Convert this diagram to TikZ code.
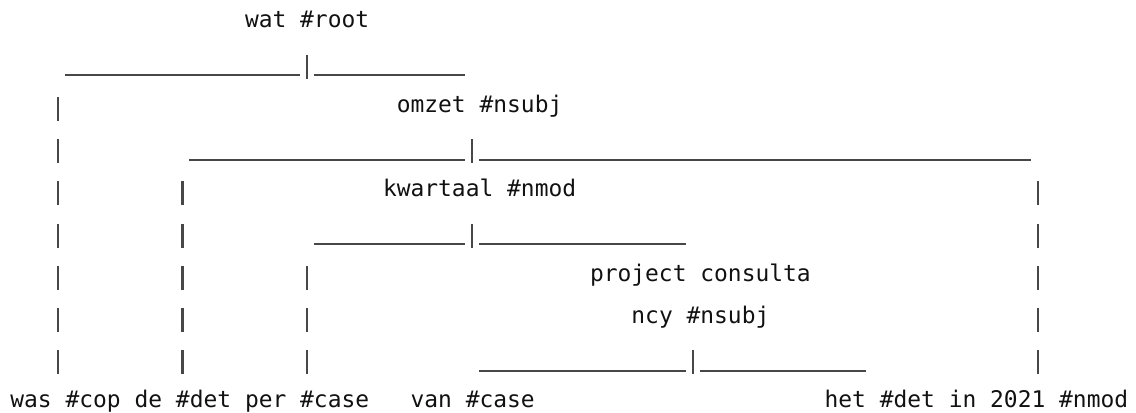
\documentclass[tikz,border=0pt]{standalone}
\usepackage{fontspec}
\usepackage{tikz}
\newfontfamily\bmmono{DejaVu Sans Mono}
\definecolor{bminkt}{HTML}{111111}
\definecolor{bmlijn}{HTML}{474747}
\tikzset{
  bmtekst/.style={font=\bmmono\fontsize{11.46pt}{14pt}\selectfont, text=bminkt,
                  inner sep=0pt, anchor=base west},
  bmstreep/.style={draw=bmlijn, line width=1.1pt},
  bmbalk/.style={draw=bmlijn, line width=1.15pt},
  bmstaaf/.style={bmbalk, dash pattern=on 12pt off 9.1pt, shorten >=1pt},
}

\begin{document}
\begin{tikzpicture}[x=6.9pt, y=-21.1pt]
    \useasboundingbox (-0.7246,0.3365) rectangle (81.594,10.123);
    % knopen van de boom
    \node[bmtekst] (root) at (17,1) {wat \#root};
    \node[bmtekst] (omzet) at (28,3) {omzet \#nsubj};
    \node[bmtekst] (kwartaal) at (27,5) {kwartaal \#nmod};
    \node[bmtekst] (proj) at (42,7) {project consulta};
    \node[bmtekst] (projb) at (45,8) {ncy \#nsubj};
    % bladeren
    \node[bmtekst] (wascop) at (0,10) {was \#cop};
    \node[bmtekst] (dedet) at (9,10) {de \#det};
    \node[bmtekst] (percase) at (17,10) {per \#case};
    \node[bmtekst] (vancase) at (29,10) {van \#case};
    \node[bmtekst] (hetdet) at (59,10) {het \#det};
    \node[bmtekst] (in2021) at (68,10) {in 2021 \#nmod};
    % wat #root
    \draw[bmstreep] (4,2.12) -- (21,2.12) (22,2.12) -- (33,2.12);
    \draw[bmbalk] (21.5,1.635) -- (21.5,2.204);
    \coordinate (copbar) at (3.5,2.635);
    \draw[bmstaaf] (copbar) -- (copbar |- wascop.north);
    % omzet #nsubj
    \draw[bmstreep] (13,4.12) -- (33,4.12) (34,4.12) -- (74,4.12);
    \draw[bmbalk] (33.5,3.635) -- (33.5,4.204);
    \coordinate (detbar) at (12.5,4.635);
    \coordinate (nmodbar) at (74.5,4.635);
    \draw[bmstaaf] (detbar) -- (detbar |- dedet.north);
    \draw[bmstaaf] (nmodbar) -- (nmodbar |- in2021.north);
    % kwartaal #nmod
    \draw[bmstreep] (22,6.12) -- (33,6.12) (34,6.12) -- (49,6.12);
    \draw[bmbalk] (33.5,5.635) -- (33.5,6.204);
    \coordinate (casebar) at (21.5,6.635);
    \draw[bmstaaf] (casebar) -- (casebar |- percase.north);
    % project consultancy #nsubj
    \draw[bmstreep] (34,9.12) -- (49,9.12) (50,9.12) -- (62,9.12);
    \draw[bmbalk] (49.5,8.635) -- (49.5,9.204);
\end{tikzpicture}
\end{document}
